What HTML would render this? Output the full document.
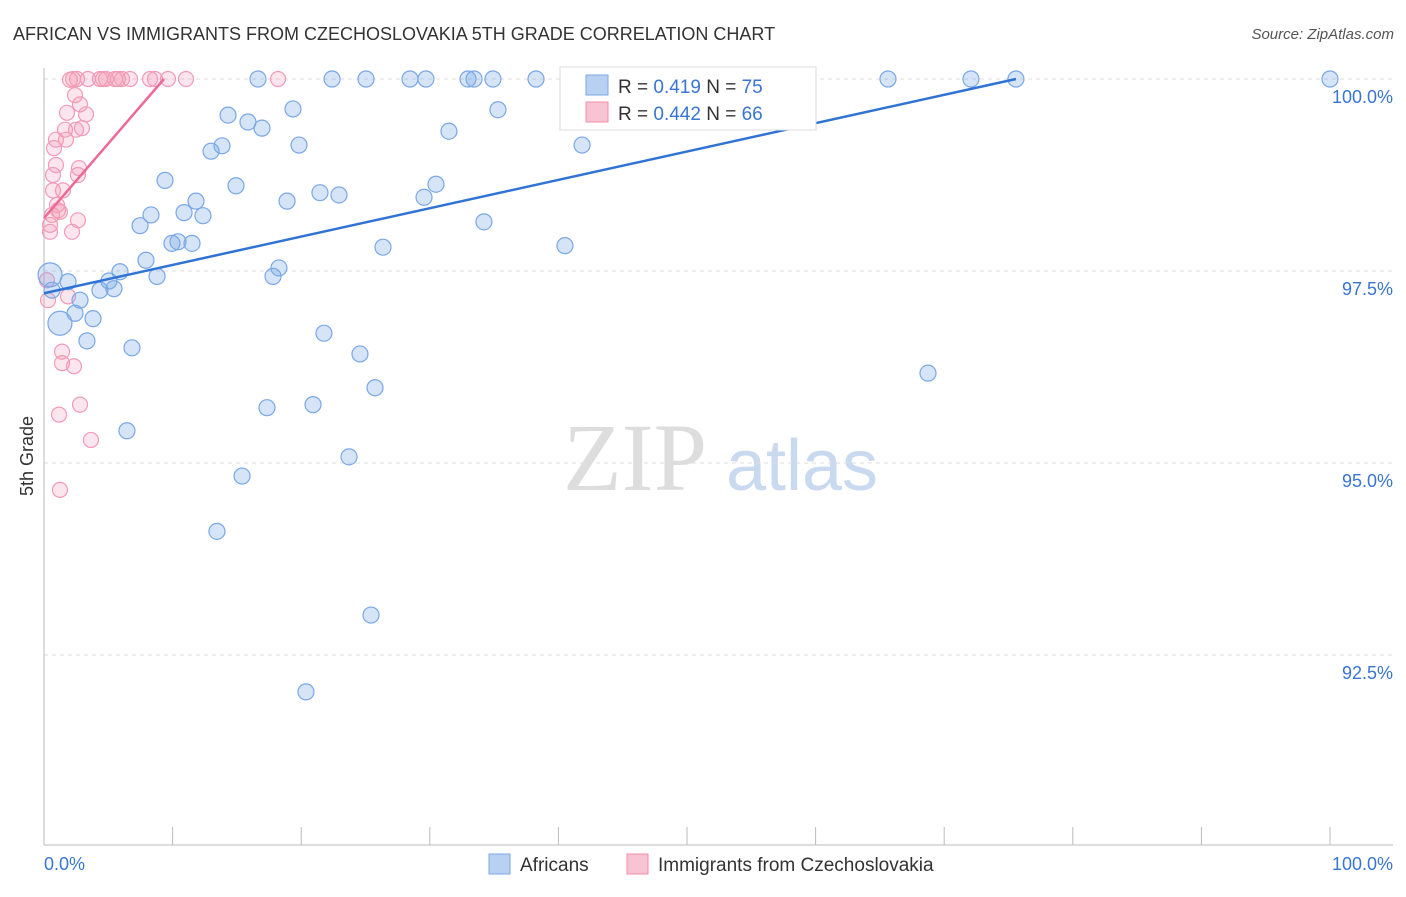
<!DOCTYPE html>
<html><head><meta charset="utf-8"><style>
body{margin:0;background:#fff;font-family:"Liberation Sans",sans-serif;}
</style></head><body>
<svg id="chart" width="1406" height="892" xmlns="http://www.w3.org/2000/svg" font-family="Liberation Sans, sans-serif">
<text x="13" y="40" font-size="18" fill="#333">AFRICAN VS IMMIGRANTS FROM CZECHOSLOVAKIA 5TH GRADE CORRELATION CHART</text>
<text x="1394" y="39" font-size="15" fill="#555" font-style="italic" text-anchor="end">Source: ZipAtlas.com</text>
<text transform="translate(33,456) rotate(-90)" font-size="18" fill="#333" text-anchor="middle">5th Grade</text>
<g>
<text x="635" y="490" font-size="96" fill="#ddd" font-family="Liberation Serif, serif" text-anchor="middle">ZIP</text>
<text x="802" y="490" font-size="72" fill="#c9d9ef" text-anchor="middle">atlas</text>
</g>
<g id="grid"></g><g id="axes"></g><g id="marks"></g>
<g>
<rect x="560" y="67" width="256" height="63" fill="#fff" stroke="#ddd"/>
<rect x="586" y="75" width="22" height="20" fill="#b8d0f2" stroke="#7aa7e6"/>
<text x="618" y="93" font-size="19" fill="#333">R = <tspan fill="#3a75d0">0.419</tspan>   N = <tspan fill="#3a75d0">75</tspan></text>
<rect x="586" y="102" width="22" height="20" fill="#f8c4d4" stroke="#f08cab"/>
<text x="618" y="120" font-size="19" fill="#333">R = <tspan fill="#3a75d0">0.442</tspan>   N = <tspan fill="#3a75d0">66</tspan></text>
</g>
<g>
<rect x="489" y="854" width="21" height="20" fill="#b8d0f2" stroke="#7aa7e6"/>
<text x="520" y="871" font-size="19" fill="#333">Africans</text>
<rect x="627" y="854" width="21" height="20" fill="#f8c4d4" stroke="#f08cab"/>
<text x="658" y="871" font-size="19" fill="#333">Immigrants from Czechoslovakia</text>
</g>
</svg>
<script>
const yTicks=[100,97.5,95,92.5];
const yTickLabels=["100.0%","97.5%","95.0%","92.5%"];
const blueX=[0.47,0.62,1.24,1.87,2.41,2.80,3.34,3.81,4.35,5.05,5.44,5.91,6.84,6.45,7.47,7.93,8.32,8.79,9.41,9.95,10.42,10.89,11.51,11.82,12.36,12.99,13.45,13.84,14.31,14.93,15.40,15.86,16.64,16.95,17.34,17.81,18.27,18.90,19.36,19.83,20.37,20.92,21.46,21.77,22.40,22.94,23.72,24.57,25.04,25.43,25.74,26.36,28.46,29.55,29.70,30.48,31.49,32.97,33.44,34.21,34.91,35.30,38.26,40.51,41.84,52.41,59.10,65.63,68.74,72.08,75.58,100];
const blueY=[97.45,97.25,96.82,97.36,96.95,97.12,96.59,96.88,97.25,97.37,97.27,97.49,96.50,95.42,98.09,97.64,98.23,97.43,98.68,97.86,97.88,98.26,97.86,98.41,98.22,99.06,94.11,99.13,99.53,98.61,94.83,99.44,100,99.36,95.72,97.43,97.54,98.41,99.61,99.14,92.02,95.76,98.52,96.69,100,98.49,95.08,96.42,100,93.02,95.98,97.81,100,98.46,100,98.63,99.32,100,100,98.14,100,99.60,100,97.83,99.14,100,100,100,96.17,100,100,100];
const pinkX=[0.23,0.31,0.47,0.47,0.62,0.70,0.70,0.78,0.93,1.01,1.09,1.17,1.24,1.40,1.40,1.48,1.63,1.71,1.79,1.87,2.02,2.18,2.26,2.33,2.41,2.49,2.57,2.64,2.64,2.72,2.80,2.80,2.95,3.27,3.42,3.65,4.35,4.59,4.82,5.52,5.75,6.07,6.69,8.24,8.63,9.64,11.04,18.20,1.24,0.93];
const pinkY=[97.38,97.12,98.01,98.10,98.23,98.55,98.75,99.10,99.21,98.36,98.29,95.63,94.65,96.30,96.45,98.55,99.34,99.21,99.56,97.17,99.99,98.01,100,96.26,99.79,99.34,100,98.16,98.75,98.84,95.76,99.67,99.36,99.54,100,95.30,100,100,100,100,100,100,100,100,100,100,100,100,98.27,98.88];
const blueTrend=[[0,97.21],[75.58,100]];
const pinkTrend=[[0,98.19],[9.33,100]];
const NS="http://www.w3.org/2000/svg";
const sx=v=>44+v*12.86, sy=v=>79+(100-v)*76.8;
function mk(t,a,p){const e=document.createElementNS(NS,t);for(const k in a)e.setAttribute(k,a[k]);p.appendChild(e);return e;}
const grid=document.getElementById('grid'),axes=document.getElementById('axes'),marks=document.getElementById('marks');
yTicks.forEach((t,i)=>{
 const l=mk('line',{x1:44,x2:1393,y1:sy(t),y2:sy(t),stroke:'#ddd','stroke-dasharray':'4,4'},grid);
 
 
 const tx=mk('text',{x:1393,y:sy(t)+24,'font-size':18,fill:'#3a75d0','text-anchor':'end'},axes);
 tx.textContent=yTickLabels[i];
 
 
});
const yl=mk('line',{x1:44,x2:44,y1:68,y2:845,stroke:'#bbb'},axes);


const xl=mk('line',{x1:44,x2:1393,y1:845,y2:845,stroke:'#bbb'},axes);


for(let i=0;i<=10;i++){const t=mk('line',{x1:sx(i*10),x2:sx(i*10),y1:827,y2:845,stroke:'#bbb'},axes);
 
 }
[["0.0%",44,'start'],["100.0%",1393,'end']].forEach(d=>{const t=mk('text',{x:d[1],y:870,'font-size':18,fill:'#3a75d0','text-anchor':d[2]},axes);t.textContent=d[0];
 
 });
function pts(X,Y,fill,stroke,r,name){X.forEach((x,i)=>{const big=(name==='african-point'&&i<3&&i!==1);
 const c=mk('circle',{cx:sx(x),cy:sy(Y[i]),r:big?12:r,fill:fill,stroke:stroke,'stroke-width':1.2},marks);
 
 });}
pts(pinkX,pinkY,'rgba(244,150,180,0.25)','#f29bb7',7.5,'czech-point');
pts(blueX,blueY,'rgba(120,165,230,0.3)','#7aa7e6',8,'african-point');
const bt=mk('line',{x1:sx(blueTrend[0][0]),y1:sy(blueTrend[0][1]),x2:sx(blueTrend[1][0]),y2:sy(blueTrend[1][1]),stroke:'#2f73d4','stroke-width':2.5},marks);


const pt=mk('line',{x1:sx(pinkTrend[0][0]),y1:sy(pinkTrend[0][1]),x2:sx(pinkTrend[1][0]),y2:sy(pinkTrend[1][1]),stroke:'#ec6a95','stroke-width':2.5},marks);


</script>
</body></html>
